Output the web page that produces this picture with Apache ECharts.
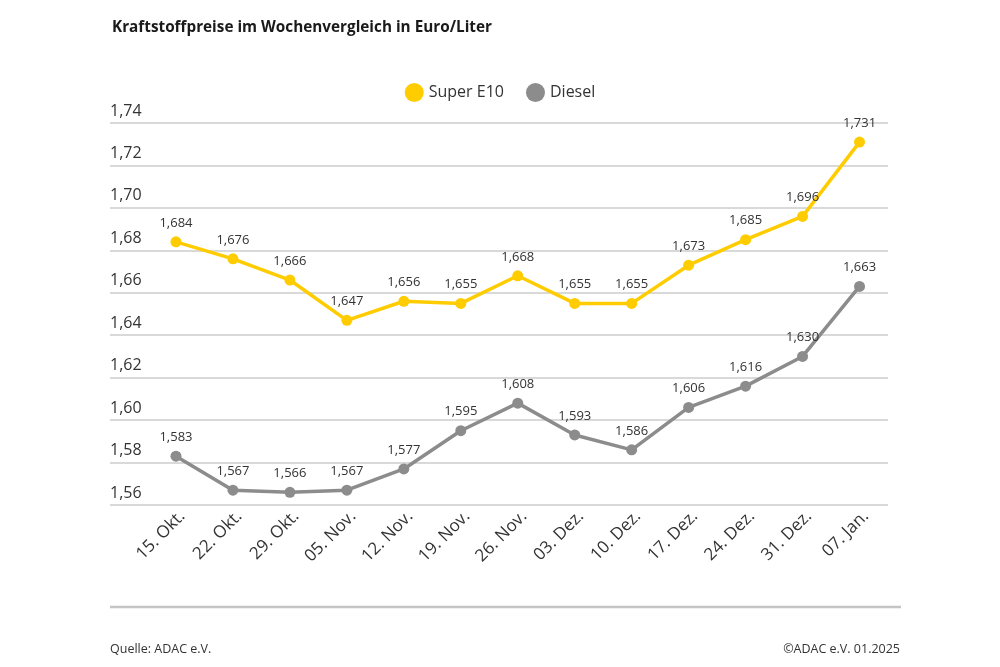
<!DOCTYPE html>
<html><head><meta charset="utf-8">
<script src="https://cdn.jsdelivr.net/npm/echarts@6/dist/echarts.min.js"></script>
<style>html,body{margin:0;padding:0;background:#fff}#c{width:1000px;height:667px}</style>
</head><body><div id="c"></div>
<script>
const categories = ['15. Okt.','22. Okt.','29. Okt.','05. Nov.','12. Nov.','19. Nov.','26. Nov.','03. Dez.','10. Dez.','17. Dez.','24. Dez.','31. Dez.','07. Jan.'];
const superE10 = [1.684,1.676,1.666,1.647,1.656,1.655,1.668,1.655,1.655,1.673,1.685,1.696,1.731];
const diesel = [1.583,1.567,1.566,1.567,1.577,1.595,1.608,1.593,1.586,1.606,1.616,1.630,1.663];
const yMin = 1.56, yMax = 1.74, yStep = 0.02;

const FONT = '"Open Sans", "Noto Sans", sans-serif';
const TXT = '#333333';
const chart = echarts.init(document.getElementById('c'), null, {renderer:'canvas'});
const fmt3 = p => p.value.toFixed(3).replace('.', ',');
function lineSeries(name, data, color){
  return {
    name, type:'line', data, xAxisIndex:0, yAxisIndex:0,
    symbol:'circle', symbolSize:11,
    lineStyle:{color, width:3.5}, itemStyle:{color},
    label:{show:true, position:'top', distance:7, formatter:fmt3, fontFamily:FONT, fontSize:13, color:TXT},
    emphasis:{disabled:true}, z:3
  };
}
chart.setOption({
  animation:false,
  textStyle:{fontFamily:FONT},
  title:{text:'Kraftstoffpreise im Wochenvergleich in Euro/Liter', left:107, top:15,
    textStyle:{fontFamily:FONT, fontSize:15.3, fontWeight:'bold', color:'#1a1a1a'}},
  legend:{top:78, left:'center', icon:'circle', itemWidth:19, itemHeight:19, itemGap:22,
    textStyle:{fontFamily:FONT, fontSize:16, color:TXT},
    data:['Super E10','Diesel']},
  grid:[
    {left:147.5, right:112, top:123, bottom:162},
    {left:110, right:112, top:123, bottom:162}
  ],
  xAxis:[
    {type:'category', gridIndex:0, data:categories, boundaryGap:true,
      axisLine:{show:false}, axisTick:{show:false},
      axisLabel:{rotate:45, margin:15, padding:[0,-9,0,0], fontFamily:FONT, fontSize:17, color:TXT, interval:0}},
    {type:'value', gridIndex:1, show:false, min:0, max:1}
  ],
  yAxis:[
    {type:'value', gridIndex:0, min:yMin, max:yMax, interval:yStep, show:false},
    {type:'value', gridIndex:1, min:yMin, max:yMax, interval:yStep,
      axisLine:{show:false}, axisTick:{show:false},
      splitLine:{show:true, lineStyle:{color:'#cccccc', width:1.5}},
      axisLabel:{inside:true, margin:0, verticalAlign:'bottom', padding:[0,0,4,0],
        fontFamily:FONT, fontSize:16, color:TXT,
        formatter:v => v.toFixed(2).replace('.', ',')}}
  ],
  series:[
    lineSeries('Super E10', superE10, '#ffcc00'),
    lineSeries('Diesel', diesel, '#8c8c8c')
  ],
  graphic:[
    {type:'line', shape:{x1:110, y1:607, x2:901, y2:607}, style:{stroke:'#c4c4c4', lineWidth:2.5}},
    {type:'text', left:110, top:643, style:{text:'Quelle: ADAC e.V.', fontFamily:FONT, fontSize:12.5, fill:TXT}},
    {type:'text', right:100, top:643, style:{text:'©ADAC e.V. 01.2025', fontFamily:FONT, fontSize:12.5, fill:TXT}}
  ]
});
</script></body></html>
